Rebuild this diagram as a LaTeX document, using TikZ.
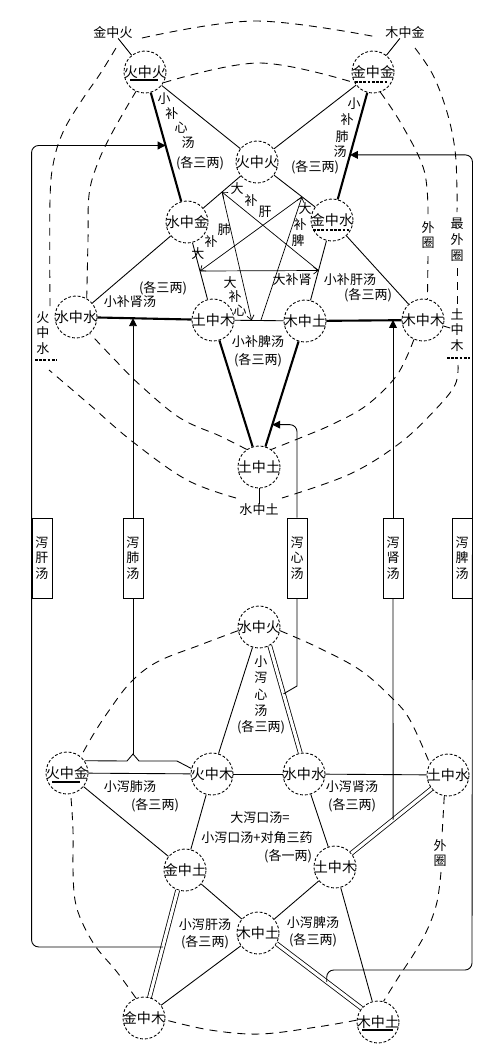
\documentclass[tikz,border=0pt]{standalone}
\usepackage{fontspec}
\setmainfont{Noto Sans CJK SC}
\usetikzlibrary{arrows.meta, calc}
\newcommand{\nodetxt}[1]{\makebox[0pt]{#1}}

\begin{document}
\begin{tikzpicture}[
    x=0.02cm, y=-0.02cm,
    elem/.style={
        circle, draw, line width=0.5pt, dash pattern=on 1.6pt off 1.1pt,
        minimum size=0.84cm, inner sep=0pt,
        font=\fontsize{8}{9}\selectfont
    },
    lab/.style={font=\fontsize{7.4}{9}\selectfont, inner sep=0pt, align=center},
    drug/.style={
        rectangle, draw, line width=0.5pt, fill=white,
        minimum width=0.4cm, minimum height=1.6cm, inner sep=0pt,
        font=\fontsize{7.4}{9}\selectfont, align=center
    },
    ln/.style={line width=0.5pt},
    bold/.style={line width=1.2pt},
    pipe/.style={double, double distance=1.8pt, line width=0.45pt},
    ring/.style={line width=0.5pt, dash pattern=on 4.5pt off 3.5pt},
    uline/.style={line width=1.3pt},
    dline/.style={line width=1.3pt, dash pattern=on 1.5pt off 0.9pt},
    arr/.style={-{Triangle[length=4.5pt, width=4.5pt]}, line width=0.5pt},
    star/.style={-{Straight Barb[length=2.5pt, width=4pt]}, line width=0.4pt}
]
\useasboundingbox (0,0) rectangle (500,1056);

% ===================================================================
% UPPER WHEEL (补)
% ===================================================================
\node[elem] (hh)  at (145,72)  {\nodetxt{火中火}};
\node[elem] (jj)  at (373,72)  {\nodetxt{金中金}};
\node[elem] (hh2) at (257,162) {\nodetxt{火中火}};
\node[elem] (sj)  at (187,222) {\nodetxt{水中金}};
\node[elem] (js)  at (332,220) {\nodetxt{金中水}};
\node[elem] (ss)  at (76,317)  {\nodetxt{水中水}};
\node[elem] (tm)  at (213,320) {\nodetxt{土中木}};
\node[elem] (mt)  at (305,321) {\nodetxt{木中土}};
\node[elem] (mm)  at (423,320) {\nodetxt{木中木}};
\node[elem] (tt)  at (259,467) {\nodetxt{土中土}};

\node[lab] (L1) at (113,32)  {金中火};
\node[lab] (L2) at (405,32)  {木中金};
\node[lab] (L3) at (457,330) {土\\中\\木};
\node[lab] (L4) at (259,510) {水中土};
\node[lab] (L5) at (43,333)  {火\\中\\水};
\node[lab] (wq1) at (428,235) {外\\圈};
\node[lab] (zwq) at (457,240) {最\\外\\圈};

% underlines
\draw[uline] ($(hh)+(-15,8)$) -- ($(hh)+(13,8)$);
\draw[dline] ($(jj)+(-18,10)$) -- ($(jj)+(15,10)$);
\draw[dline] ($(js)+(-19,10)$) -- ($(js)+(18,10)$);
\draw[dline] ($(L5.south)+(-8,5)$) -- ($(L5.south)+(14,5)$);
\draw[dline] ($(L3.south)+(-10,6)$) -- ($(L3.south)+(13,6)$);

% ===================================================================
% LOWER WHEEL (泻)
% ===================================================================
\node[elem] (sh)  at (259,627)  {\nodetxt{水中火}};
\node[elem] (hm)  at (212,774)  {\nodetxt{火中木}};
\node[elem] (ss2) at (304,774)  {\nodetxt{水中水}};
\node[elem] (hj)  at (67,773)   {\nodetxt{火中金}};
\node[elem] (ts)  at (448,775)  {\nodetxt{土中水}};
\node[elem] (jt)  at (185,870)  {\nodetxt{金中土}};
\node[elem] (tm2) at (335,867)  {\nodetxt{土中木}};
\node[elem] (mt2) at (258,933)  {\nodetxt{木中土}};
\node[elem] (jm)  at (144,1018) {\nodetxt{金中木}};
\node[elem] (mt3) at (378,1022) {\nodetxt{木中土}};

\node[lab] (wq2) at (440,853) {外\\圈};

\draw[uline] ($(hj)+(-15,9)$) -- ($(hj)+(13,9)$);
\draw[uline] ($(mt3)+(-16,8)$) -- ($(mt3)+(15,8)$);

% ===================================================================
% DASHED RINGS
% ===================================================================
% outer ring, upper wheel
\draw[ring] plot[smooth, tension=0.6] coordinates {(hh.-30) (259,63) (jj.210)};
\draw[ring] plot[smooth, tension=0.6] coordinates {(jj.-70) (402,125) (424,170) (428,214)};
\draw[ring] (428,256) -- (mm.78);
\draw[ring] plot[smooth, tension=0.6] coordinates {(mm.-115) (397,375) (367,405) (333,424) (300,438) (tt.55)};
\draw[ring] plot[smooth, tension=0.6] coordinates {(tt.125) (220,436) (180,418) (140,385) (115,360) (ss.-50)};
\draw[ring] plot[smooth, tension=0.6] coordinates {(ss.60) (88,240) (89,195) (97,165) (112,133) (hh.-115)};

% outermost ring
\draw[ring] plot[smooth, tension=0.6] coordinates {(142,38) (255,21) (377,37)};
\draw[ring] plot[smooth, tension=0.6] coordinates {(415,48) (433,75) (447,112) (455,150) (457,190) (457,212)};
\draw[ring] (457,268) -- (457,307);
\draw[ring] plot[smooth, tension=0.6] coordinates {(458,365) (455,385) (435,410) (400,443) (350,474) (282,498)};
\draw[ring] plot[smooth, tension=0.6] coordinates {(236,498) (187,480) (133,442) (90,405) (62,381) (49,370)};
\draw[ring] plot[smooth, tension=0.6] coordinates {(50,306) (50,200) (54,160) (64,130) (82,100) (100,74) (116,48)};

% outer ring, lower wheel
\draw[ring] plot[smooth, tension=0.6] coordinates {(sh.190) (200,645) (157,662) (130,683) (108,712) (93,735) (hj.50)};
\draw[ring] plot[smooth, tension=0.6] coordinates {(sh.-10) (317,647) (360,670) (392,698) (410,720) (ts.148)};
\draw[ring] (ts.-100) -- (442,836);
\draw[ring] plot[smooth, tension=0.6] coordinates {(441,872) (437,902) (428,928) (415,952) (398,978) (mt3.75)};
\draw[ring] plot[smooth, tension=0.6] coordinates {(mt3.175) (317,1027) (260,1034) (210,1030) (jm.-5)};
\draw[ring] plot[smooth, tension=0.6] coordinates {(jm.112) (117,972) (96,947) (82,922) (75,900) (73,870) (73,830) (hj.-80)};

% ===================================================================
% CONNECTORS
% ===================================================================
\foreach \a/\b in {hh/hh2, jj/hh2, hh2/sj, hh2/js, sj/ss, js/mm, sj/tm,
                   js/mt, tm/mt, L1/hh, L2/jj, L4/tt, L3/mm} {
    \draw[ln] (\a) -- (\b);
}
\foreach \a/\b in {hh/sj, jj/js, ss/tm, mt/mm, tm/tt, mt/tt} {
    \draw[bold] (\a) -- (\b);
}
\foreach \a/\b in {sh/hm, hj/hm, hm/ss2, ss2/ts, hj/jt, hm/jt, ss2/tm2,
                   jt/mt2, tm2/mt2, mt2/jm, tm2/mt3} {
    \draw[ln] (\a) -- (\b);
}
\draw[pipe] (sh.-60) -- (ss2.100);
\draw[pipe] (ts.-140) -- (tm2.40);
\draw[pipe] (jt.-110) -- (jm.75);
\draw[pipe] (mt2.-30) -- (mt3.140);

% star of 大补
\coordinate (p1) at ($(hh2)!0.5!(sj)$);
\coordinate (p2) at ($(hh2)!0.6!(js)$);
\coordinate (p3) at ($(sj)!0.5!(tm)$);
\coordinate (p4) at ($(js)!0.5!(mt)$);
\coordinate (p5) at ($(tm)!0.42!(mt)$);
\coordinate (p6) at ($(tm)!0.52!(mt)$);
\foreach \a/\b in {p1/p5, p6/p2, p2/p3, p3/p4, p4/p1} {
    \draw[star] (\a) -- (\b);
}

% ===================================================================
% 泻 BOXES AND FEEDBACK LINES
% ===================================================================
\coordinate (ganJ)  at ($(jt.-110)!0.53!(jm.75)$);
\coordinate (ganT)  at ($(hh)!0.49!(sj)$);
\coordinate (feiT)  at ($(ss)!0.42!(tm)$);
\coordinate (feiB)  at (133,754);
\coordinate (xinT)  at ($(mt)!0.71!(tt)$);
\coordinate (xinK)  at (297,686);
\coordinate (xinJ)  at ($(sh.-60)!0.45!(ss2.100)$);
\coordinate (shenJ) at ($(ts.-140)!0.48!(tm2.40)$);
\coordinate (piT)   at ($(jj)!0.56!(js)$);
\coordinate (piC)   at (472,970);
\coordinate (piJ)   at ($(mt2.-30)!0.59!(mt3.140)$);

\node[drug] (gan)  at (42,558)  {泻\\肝\\汤};
\node[drug] (fei)  at (133,558) {泻\\肺\\汤};
\node[drug] (xin)  at (297,558) {泻\\心\\汤};
\node[drug] (shen) at (393,558) {泻\\肾\\汤};
\node[drug] (pi)   at (462,558) {泻\\脾\\汤};

\draw[arr, rounded corners=4pt] (ganJ) -| (gan.west) |- (ganT);
\draw[arr] (fei.north) -- (fei.north |- feiT);
\draw[ln] (fei.south) -- (feiB);
\draw[ln] (hj.35) -- (127,761) -- (feiB) -- (139,761) -- (177,761) -- (hm.165);
\draw[arr, rounded corners=4pt] (xin.north) |- (xinT);
\draw[ln] (xin.south) -- (xinK) -- (xinJ);
\draw[arr] (shen.north) -- (shen.north |- mm);
\draw[ln] (shen.south) -- (shenJ);
\draw[arr, rounded corners=4pt] (piJ) |- (piC) -- (pi.east) |- (piT);

% ===================================================================
% PRESCRIPTION LABELS
% ===================================================================
\foreach \c/\x/\y [count=\i] in {
    小/164/99, 补/172/114, 心/181/128, 汤/188/143,
    小/354/104, 补/347/120, 肺/342/137, 汤/340/152,
    大/230/283, 补/235/297, 心/240/311,
    大/198/254, 补/211/242, 肺/224/230,
    大/237/189, 补/251/201, 肝/265/212,
    大/305/209, 补/300/225, 脾/298/241} {
    \node[lab] (ch\i) at (\x,\y) {\c};
}
\node[lab] (bxinD)  at (200,163) {(各三两)};
\node[lab] (bfeiD)  at (315,167) {(各三两)};
\node[lab] (bshen)  at (130,302) {小补肾汤};
\node[lab] (bshenD) at (163,288) {(各三两)};
\node[lab] (bgan)   at (350,280) {小补肝汤};
\node[lab] (bganD)  at (368,295) {(各三两)};
\node[lab] (bpi)    at (258,342) {小补脾汤};
\node[lab] (bpiD)   at (258,360) {(各三两)};
\node[lab] (dbshen) at (292,280) {大补肾};

\node[lab, font=\fontsize{7.4}{9.2}\selectfont] (xxin) at (261,695)
    {小\\泻\\心\\汤\\(各三两)};
\node[lab] (xfei)   at (130,787) {小泻肺汤};
\node[lab] (xfeiD)  at (155,805) {(各三两)};
\node[lab] (xshen)  at (352,787) {小泻肾汤};
\node[lab] (xshenD) at (352,805) {(各三两)};
\node[lab] (dx1)    at (260,818) {大泻口汤=};
\node[lab] (dx2)    at (257,838) {小泻口汤+对角三药};
\node[lab] (dx3)    at (288,856) {(各一两)};
\node[lab] (xgan)   at (205,925) {小泻肝汤};
\node[lab] (xganD)  at (205,942) {(各三两)};
\node[lab] (xpi)    at (313,923) {小泻脾汤};
\node[lab] (xpiD)   at (313,940) {(各三两)};

\end{tikzpicture}
\end{document}
